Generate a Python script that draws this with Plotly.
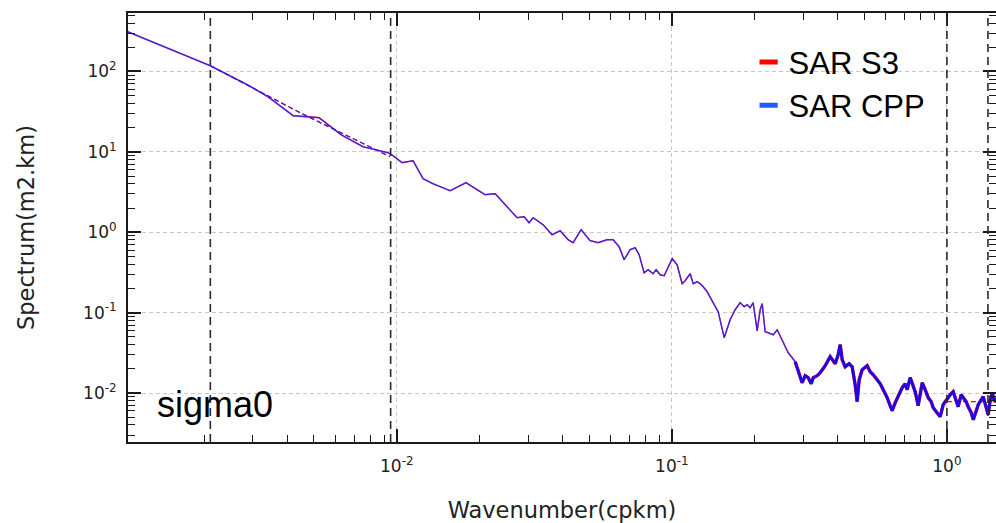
import plotly.graph_objects as go

# Along-track spectra of sigma0 (wavenumber in cycles per km)
wavenumber = [
    0.00105, 0.00210, 0.00286, 0.00340, 0.00420, 0.00522, 0.00627, 0.00754,
    0.00930, 0.00969, 0.01045, 0.01146, 0.01247, 0.01355, 0.01563, 0.01786,
    0.01959, 0.02095, 0.02278, 0.02518, 0.02738, 0.02904, 0.03028, 0.03131,
    0.03404, 0.03670, 0.03925, 0.04197, 0.04377, 0.04680, 0.05046, 0.05395,
    0.05818, 0.06116, 0.06432, 0.06706, 0.07053, 0.07354, 0.07605, 0.07930,
    0.08200, 0.08551, 0.08768, 0.09069, 0.09376, 0.1003, 0.1045, 0.1090,
    0.1118, 0.1166, 0.1196, 0.1236, 0.1267, 0.1300, 0.1344, 0.1413,
    0.1474, 0.1550, 0.1629, 0.1699, 0.1772, 0.1832, 0.1879, 0.1926,
    0.1975, 0.2043, 0.2095, 0.2130, 0.2184, 0.2240, 0.2336, 0.2416,
    0.2518, 0.2648, 0.2738, 0.2808, 0.2904, 0.2977, 0.3053, 0.3131,
    0.3210, 0.3265, 0.3376, 0.3462, 0.3610, 0.3764, 0.3859, 0.3925,
    0.4024, 0.4093, 0.4162, 0.4267, 0.4412, 0.4524, 0.4640, 0.4718,
    0.4798, 0.4920, 0.5131, 0.5261, 0.5395, 0.5578, 0.5721, 0.5916,
    0.6066, 0.6220, 0.6325, 0.6486, 0.6650, 0.6878, 0.7053, 0.7171,
    0.7354, 0.7541, 0.7668, 0.7863, 0.7996, 0.8131, 0.8338, 0.8551,
    0.8768, 0.8916, 0.9144, 0.9454, 0.9694, 1.0025, 1.028, 1.054,
    1.081, 1.099, 1.127, 1.146, 1.175, 1.195, 1.226, 1.247,
    1.278, 1.300, 1.333, 1.355, 1.390, 1.413, 1.437, 1.461,
    1.490, 1.508, 1.563,
]

spectrum_cpp = [
    311.7, 117.7, 68.33, 48.44, 28.12, 26.56, 16.32, 11.57,
    9.745, 8.945, 7.317, 7.749, 4.628, 4.011, 3.283, 4.128,
    3.378, 2.927, 3.012, 2.076, 1.515, 1.559, 1.313, 1.515,
    1.240, 0.9309, 1.044, 0.8067, 0.7404, 1.074, 0.7839, 0.7404,
    0.8067, 0.8067, 0.6601, 0.4550, 0.6057, 0.6415, 0.5250, 0.3134,
    0.3416, 0.3045, 0.3416, 0.2960, 0.2877, 0.4682, 0.3942, 0.2288,
    0.2493, 0.3045, 0.2288, 0.2422, 0.2288, 0.2100, 0.1820, 0.1328,
    0.1026, 0.04873, 0.08161, 0.1087, 0.1328, 0.1184, 0.1254, 0.1151,
    0.1328, 0.05938, 0.1087, 0.1291, 0.05770, 0.05608, 0.05295, 0.06111,
    0.04602, 0.03170, 0.02748, 0.02450, 0.01789, 0.01343, 0.01641, 0.01550,
    0.01305, 0.01550, 0.01641, 0.01789, 0.02185, 0.02828, 0.02522, 0.02314,
    0.02995, 0.03989, 0.02596, 0.02123, 0.02314, 0.02123, 0.01268, 0.007795,
    0.01463, 0.01949, 0.02185, 0.01841, 0.01689, 0.01463, 0.01305, 0.01038,
    0.008739, 0.006950, 0.006024, 0.007575, 0.008995, 0.01164, 0.01305, 0.01099,
    0.01550, 0.01198, 0.01038, 0.006950, 0.009526, 0.01343, 0.01099, 0.008739,
    0.007795, 0.006565, 0.005853, 0.005071, 0.007153, 0.008494, 0.009526, 0.01038,
    0.007795, 0.006754, 0.009526, 0.008739, 0.007795, 0.006754, 0.005689, 0.004652,
    0.006199, 0.007153, 0.008254, 0.008995, 0.006565, 0.005371, 0.008254, 0.01009,
    0.007795, 0.008254, 0.007153,
]

# The two processing chains give nearly identical spectra
spectrum_s3 = list(spectrum_cpp)

# Power-law fit over the low-wavenumber band
fit_k = [0.00210, 0.00445, 0.00945]
fit_s = [117.7, 30.64, 8.694]

# Noise floor of the S3 spectrum
floor_k = [1.0, 1.6]
floor_s = [0.0078, 0.0078]

# Band limits marked by vertical dashed lines
cutoffs = [0.0021, 0.0095, 1.0, 1.41]

# Above this wavenumber the spectra are noise dominated (drawn heavier)
noise_start = 0.28

x_ticks = [0.01, 0.1, 1]
x_tick_text = ["10<sup>-2</sup>", "10<sup>-1</sup>", "10<sup>0</sup>"]
y_ticks = [0.01, 0.1, 1, 10, 100]
y_tick_text = ["10<sup>-2</sup>", "10<sup>-1</sup>", "10<sup>0</sup>",
               "10<sup>1</sup>", "10<sup>2</sup>"]

RED = "#ff0000"
BLUE = "rgba(40,30,255,0.8)"
AXIS = "#1a1a1a"
TICK_FONT = dict(family="DejaVu Sans", size=17, color="#222222")
TITLE_FONT = dict(family="DejaVu Sans", size=22.5, color="#222222")

minor_vals = [m * 10.0 ** e for e in range(-4, 4) for m in range(2, 10)]


def split(k_vals, s_vals):
    """Return the smooth and the noisy parts of a spectrum (sharing one point)."""
    idx = next(i for i, k in enumerate(k_vals) if k >= noise_start)
    return ((k_vals[:idx + 1], s_vals[:idx + 1]),
            (k_vals[idx:], s_vals[idx:]))


fig = go.Figure()

# Spectra: S3 underneath, CPP on top
(s3_lo, s3_hi) = split(wavenumber, spectrum_s3)
(cpp_lo, cpp_hi) = split(wavenumber, spectrum_cpp)

fig.add_trace(go.Scatter(x=s3_lo[0], y=s3_lo[1], mode="lines",
                         line=dict(color=RED, width=1.2), showlegend=False))
fig.add_trace(go.Scatter(x=s3_hi[0], y=s3_hi[1], mode="lines",
                         line=dict(color=RED, width=3.4), showlegend=False))
fig.add_trace(go.Scatter(x=fit_k, y=fit_s, mode="lines",
                         line=dict(color=RED, width=1.2, dash="5px,3px"),
                         showlegend=False))
fig.add_trace(go.Scatter(x=floor_k, y=floor_s, mode="lines",
                         line=dict(color=RED, width=1.2, dash="5px,3px"),
                         showlegend=False))
fig.add_trace(go.Scatter(x=cpp_lo[0], y=cpp_lo[1], mode="lines",
                         line=dict(color=BLUE, width=1.5), showlegend=False))
fig.add_trace(go.Scatter(x=cpp_hi[0], y=cpp_hi[1], mode="lines",
                         line=dict(color="rgba(10,10,255,0.95)", width=2.8),
                         showlegend=False))
fig.add_trace(go.Scatter(x=fit_k, y=fit_s, mode="lines",
                         line=dict(color=BLUE, width=1.3, dash="5px,3px"),
                         showlegend=False))

# Legend entries with short thick swatches
fig.add_trace(go.Scatter(x=[None], y=[None], mode="markers", name="SAR S3",
                         marker=dict(symbol="line-ew", size=13,
                                     line=dict(width=5, color=RED))))
fig.add_trace(go.Scatter(x=[None], y=[None], mode="markers", name="SAR CPP",
                         marker=dict(symbol="line-ew", size=13,
                                     line=dict(width=5, color="#1f5bff"))))

for k in cutoffs:
    fig.add_shape(type="line", xref="x", yref="paper", x0=k, x1=k, y0=0, y1=1,
                  line=dict(color="#2a2a2a", width=1.6, dash="8px,5px"),
                  layer="above")

fig.add_annotation(text="sigma0", xref="paper", yref="paper", x=0.031, y=0.088,
                   xanchor="left", yanchor="middle", showarrow=False,
                   font=dict(family="Liberation Sans, Arial", size=36,
                             color="#000000"))

axis_common = dict(
    type="log",
    showline=True, linecolor=AXIS, linewidth=2, mirror="allticks",
    ticks="inside", ticklen=13, tickwidth=1.6, tickcolor=AXIS,
    showgrid=True, gridcolor="#c8c8c8", gridwidth=1, griddash="4px,3px",
    zeroline=False, tickfont=TICK_FONT,
    minor=dict(tickmode="array", tickvals=minor_vals, ticks="inside",
               ticklen=7, tickwidth=1.4, tickcolor=AXIS, showgrid=False),
)

fig.update_xaxes(
    **axis_common,
    range=[-2.9771, 0.1785],
    tickmode="array", tickvals=x_ticks, ticktext=x_tick_text,
    ticklabelstandoff=8,
    title=dict(text="Wavenumber(cpkm)", font=TITLE_FONT, standoff=30),
)
fig.update_yaxes(
    **axis_common,
    range=[-2.6095, 2.7264],
    tickmode="array", tickvals=y_ticks, ticktext=y_tick_text,
    ticklabelstandoff=6,
    title=dict(text="Spectrum(m2.km)", font=TITLE_FONT, standoff=42),
)

fig.update_layout(
    width=996, height=523,
    margin=dict(l=128, r=0, t=13, b=81, autoexpand=False),
    paper_bgcolor="white", plot_bgcolor="white",
    legend=dict(x=0.715, y=0.948, xanchor="left", yanchor="top",
                bgcolor="rgba(0,0,0,0)",
                font=dict(family="Liberation Sans, Arial", size=31,
                          color="#000000")),
)

fig.write_html("out.html")
